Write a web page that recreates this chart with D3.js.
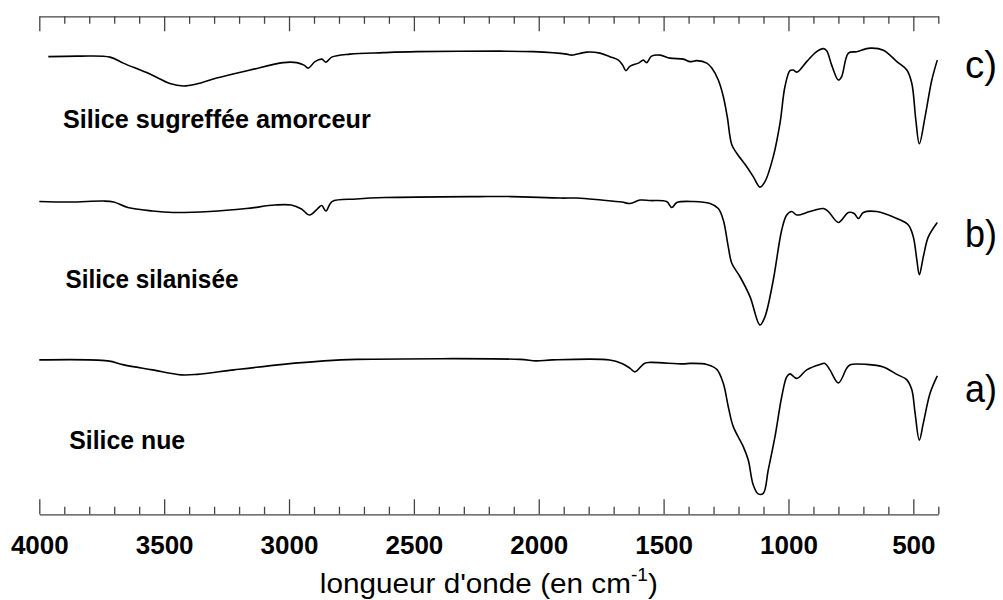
<!DOCTYPE html>
<html>
<head>
<meta charset="utf-8">
<script src="https://cdn.jsdelivr.net/npm/d3@7"></script>
<style>
  html, body { margin: 0; padding: 0; background: #fff; }
  svg { display: block; }
</style>
</head>
<body>
<svg id="chart" width="1003" height="600"></svg>
<script>
// FTIR spectra, [wavenumber (cm-1), transmittance (a.u., stacked)]
const spectrumA = [
  [4000, 31.0], [3726, 30.8], [3661, 30.0], [3547, 29.0], [3433, 28.0], [3367, 28.1],
  [3220, 29.0], [3024, 30.1], [2860, 30.8], [2730, 31.1], [2076, 31.1], [2011, 30.8],
  [1945, 31.0], [1716, 31.0], [1667, 30.3], [1634, 29.3], [1615, 28.6], [1577, 30.3],
  [1554, 30.5], [1421, 30.2], [1394, 30.3], [1327, 30.1], [1287, 29.1], [1261, 26.3],
  [1241, 21.6], [1221, 17.6], [1181, 13.6], [1161, 10.9], [1141, 5.9], [1121, 4.1],
  [1101, 4.2], [1081, 8.9], [1054, 15.6], [1027, 23.6], [1007, 27.6], [994, 28.2],
  [967, 27.3], [927, 29.0], [874, 30.1], [854, 30.3], [834, 29.0], [800, 26.4],
  [767, 29.3], [754, 30.0], [687, 30.1], [620, 29.6], [566, 28.1], [526, 27.0],
  [506, 25.0], [493, 20.3], [476, 14.9], [460, 18.3], [433, 24.3], [404, 27.8]
];

const spectrumB = [
  [4000, 62.8], [3874, 62.7], [3743, 62.9], [3702, 62.7], [3645, 61.6], [3547, 60.9],
  [3465, 60.6], [3318, 60.8], [3171, 61.4], [3057, 62.1], [2991, 62.1], [2950, 61.3],
  [2918, 60.1], [2885, 61.4], [2869, 62.0], [2852, 60.9], [2828, 62.8], [2730, 63.3],
  [2615, 63.6], [2239, 63.8], [2109, 63.8], [1912, 63.5], [1847, 63.5], [1749, 63.1],
  [1667, 62.7], [1634, 62.4], [1594, 63.1], [1554, 63.0], [1488, 62.8], [1467, 61.6],
  [1447, 62.6], [1381, 62.8], [1314, 62.4], [1281, 61.4], [1261, 59.1], [1241, 53.7],
  [1227, 50.4], [1194, 47.7], [1154, 43.7], [1114, 38.0], [1094, 39.7], [1061, 47.0],
  [1027, 57.1], [1007, 60.1], [987, 60.8], [967, 60.1], [914, 60.8], [860, 61.4],
  [840, 60.8], [800, 58.6], [760, 60.6], [737, 60.4], [720, 59.4], [700, 60.6],
  [647, 60.8], [566, 59.4], [520, 58.1], [500, 55.7], [486, 51.1], [476, 48.1],
  [460, 51.7], [440, 55.7], [404, 58.6]
];

const spectrumC = [
  [3964, 91.9], [3837, 92.0], [3717, 91.8], [3664, 90.6], [3557, 88.4], [3477, 86.5],
  [3423, 86.0], [3370, 86.4], [3290, 87.6], [3156, 89.2], [3023, 90.7], [2969, 90.7],
  [2940, 90.2], [2923, 89.6], [2896, 90.9], [2869, 91.4], [2852, 90.8], [2829, 91.8],
  [2756, 92.4], [2622, 92.7], [2489, 92.9], [2155, 93.0], [2022, 92.9], [1888, 92.4],
  [1868, 92.2], [1808, 92.8], [1755, 92.6], [1715, 91.9], [1681, 91.2], [1664, 90.2],
  [1651, 89.1], [1634, 90.0], [1601, 90.6], [1581, 91.2], [1568, 90.7], [1548, 92.0],
  [1514, 92.2], [1474, 91.6], [1421, 91.4], [1394, 90.9], [1367, 91.1], [1327, 90.6],
  [1307, 89.6], [1281, 87.2], [1261, 83.9], [1245, 79.8], [1227, 74.2], [1207, 72.5],
  [1167, 69.8], [1141, 67.8], [1114, 65.7], [1094, 66.8], [1061, 71.8], [1034, 78.5],
  [1014, 85.9], [994, 89.1], [981, 89.2], [965, 88.8], [927, 90.9], [887, 92.9],
  [860, 93.5], [847, 93.1], [827, 90.2], [800, 87.2], [787, 87.9], [760, 92.6],
  [727, 92.9], [673, 93.6], [620, 93.2], [566, 90.9], [526, 89.2], [506, 86.5],
  [490, 79.2], [476, 74.4], [453, 79.8], [426, 87.2], [404, 91.2]
];

const seriesNames = ["Silice nue", "Silice silanisée", "Silice sugreffée amorceur"];
const seriesTags = ["a)", "b)", "c)"];
const majorTicks = [4000, 3500, 3000, 2500, 2000, 1500, 1000, 500];
const minorStep = 100;
const xDomain = [4000, 400];
const yDomain = [0, 100];

const font = '"Liberation Sans", Arial, sans-serif';

const svg = d3.select("#chart");
const plotLeft = 39.3, plotRight = 938.3, plotTop = 16.3, plotBottom = 514.3;

const x = d3.scaleLinear().domain(xDomain).range([plotLeft, plotRight]);
const y = d3.scaleLinear().domain(yDomain).range([plotBottom, plotTop]);

const minorTicks = d3.range(xDomain[1], xDomain[0] + 1, minorStep)
  .filter(v => !majorTicks.includes(v));

// squeeze a text element horizontally to a given width, keeping its left edge or centre
function fitWidth(sel, width, keepCentre) {
  const bb = sel.node().getBBox();
  const s = width / bb.width;
  const ox = keepCentre ? bb.x + bb.width / 2 : bb.x;
  sel.attr("transform", `translate(${ox},0) scale(${s},1) translate(${-ox},0)`);
}

function styleAxis(g) {
  g.selectAll("path.domain").attr("stroke", "#444").attr("stroke-width", 1.3);
  g.selectAll(".tick line").attr("stroke", "#444").attr("stroke-width", 1.3);
}

// top frame axis: ticks pointing down, no labels
const topMajor = svg.append("g").attr("transform", `translate(0,${plotTop})`)
  .call(d3.axisBottom(x).tickValues(majorTicks).tickSize(15).tickSizeOuter(0).tickFormat(""));
const topMinor = svg.append("g").attr("transform", `translate(0,${plotTop})`)
  .call(d3.axisBottom(x).tickValues(minorTicks).tickSize(7.5).tickSizeOuter(0).tickFormat(""));
topMinor.select("path.domain").remove();
styleAxis(topMajor); styleAxis(topMinor);

// bottom axis: ticks pointing up, bold labels below
const botMajor = svg.append("g").attr("transform", `translate(0,${plotBottom})`)
  .call(d3.axisBottom(x).tickValues(majorTicks).tickSize(-15).tickSizeOuter(0)
    .tickPadding(21).tickFormat(d3.format("d")));
const botMinor = svg.append("g").attr("transform", `translate(0,${plotBottom})`)
  .call(d3.axisBottom(x).tickValues(minorTicks).tickSize(-7.5).tickSizeOuter(0).tickFormat(""));
botMinor.select("path.domain").remove();
styleAxis(botMajor); styleAxis(botMinor);
botMajor.selectAll(".tick text")
  .style("font-family", font)
  .attr("font-size", 26)
  .attr("font-weight", "bold")
  .attr("fill", "#000");

// axis title with superscript
const title = svg.append("text")
  .attr("x", (plotLeft + plotRight) / 2)
  .attr("y", 593)
  .attr("text-anchor", "middle")
  .style("font-family", font)
  .attr("font-size", 28);
title.append("tspan").text("longueur d'onde (en cm");
title.append("tspan").attr("font-size", 18).attr("dy", -12).text("-1");
title.append("tspan").attr("dy", 12).text(")");
fitWidth(title, 338, true);

// spectra
const line = d3.line()
  .x(d => x(d[0]))
  .y(d => y(d[1]))
  .curve(d3.curveCatmullRom.alpha(0.5));

[spectrumA, spectrumB, spectrumC].forEach(s => {
  svg.append("path")
    .datum(s)
    .attr("d", line)
    .attr("fill", "none")
    .attr("stroke", "#000")
    .attr("stroke-width", 1.6)
    .attr("stroke-linejoin", "round");
});

// sample names
const nameAnchors = [[3880, 13.2], [3895, 45.5], [3905, 77.5]];
const nameWidths = [116, 173, 308];
seriesNames.forEach((name, i) => {
  const t = svg.append("text")
    .attr("x", x(nameAnchors[i][0]))
    .attr("y", y(nameAnchors[i][1]))
    .style("font-family", font)
    .attr("font-size", 26)
    .attr("font-weight", "bold")
    .attr("fill", "#000")
    .text(name);
  fitWidth(t, nameWidths[i], false);
});

// curve tags on the right
const tagLevels = [22.5, 53.7, 87.6];
seriesTags.forEach((t, i) => {
  const el = svg.append("text")
    .attr("x", 965)
    .attr("y", y(tagLevels[i]))
    .style("font-family", font)
    .attr("font-size", 38)
    .attr("fill", "#000")
    .text(t);
  fitWidth(el, 32, false);
});
</script>
</body>
</html>
